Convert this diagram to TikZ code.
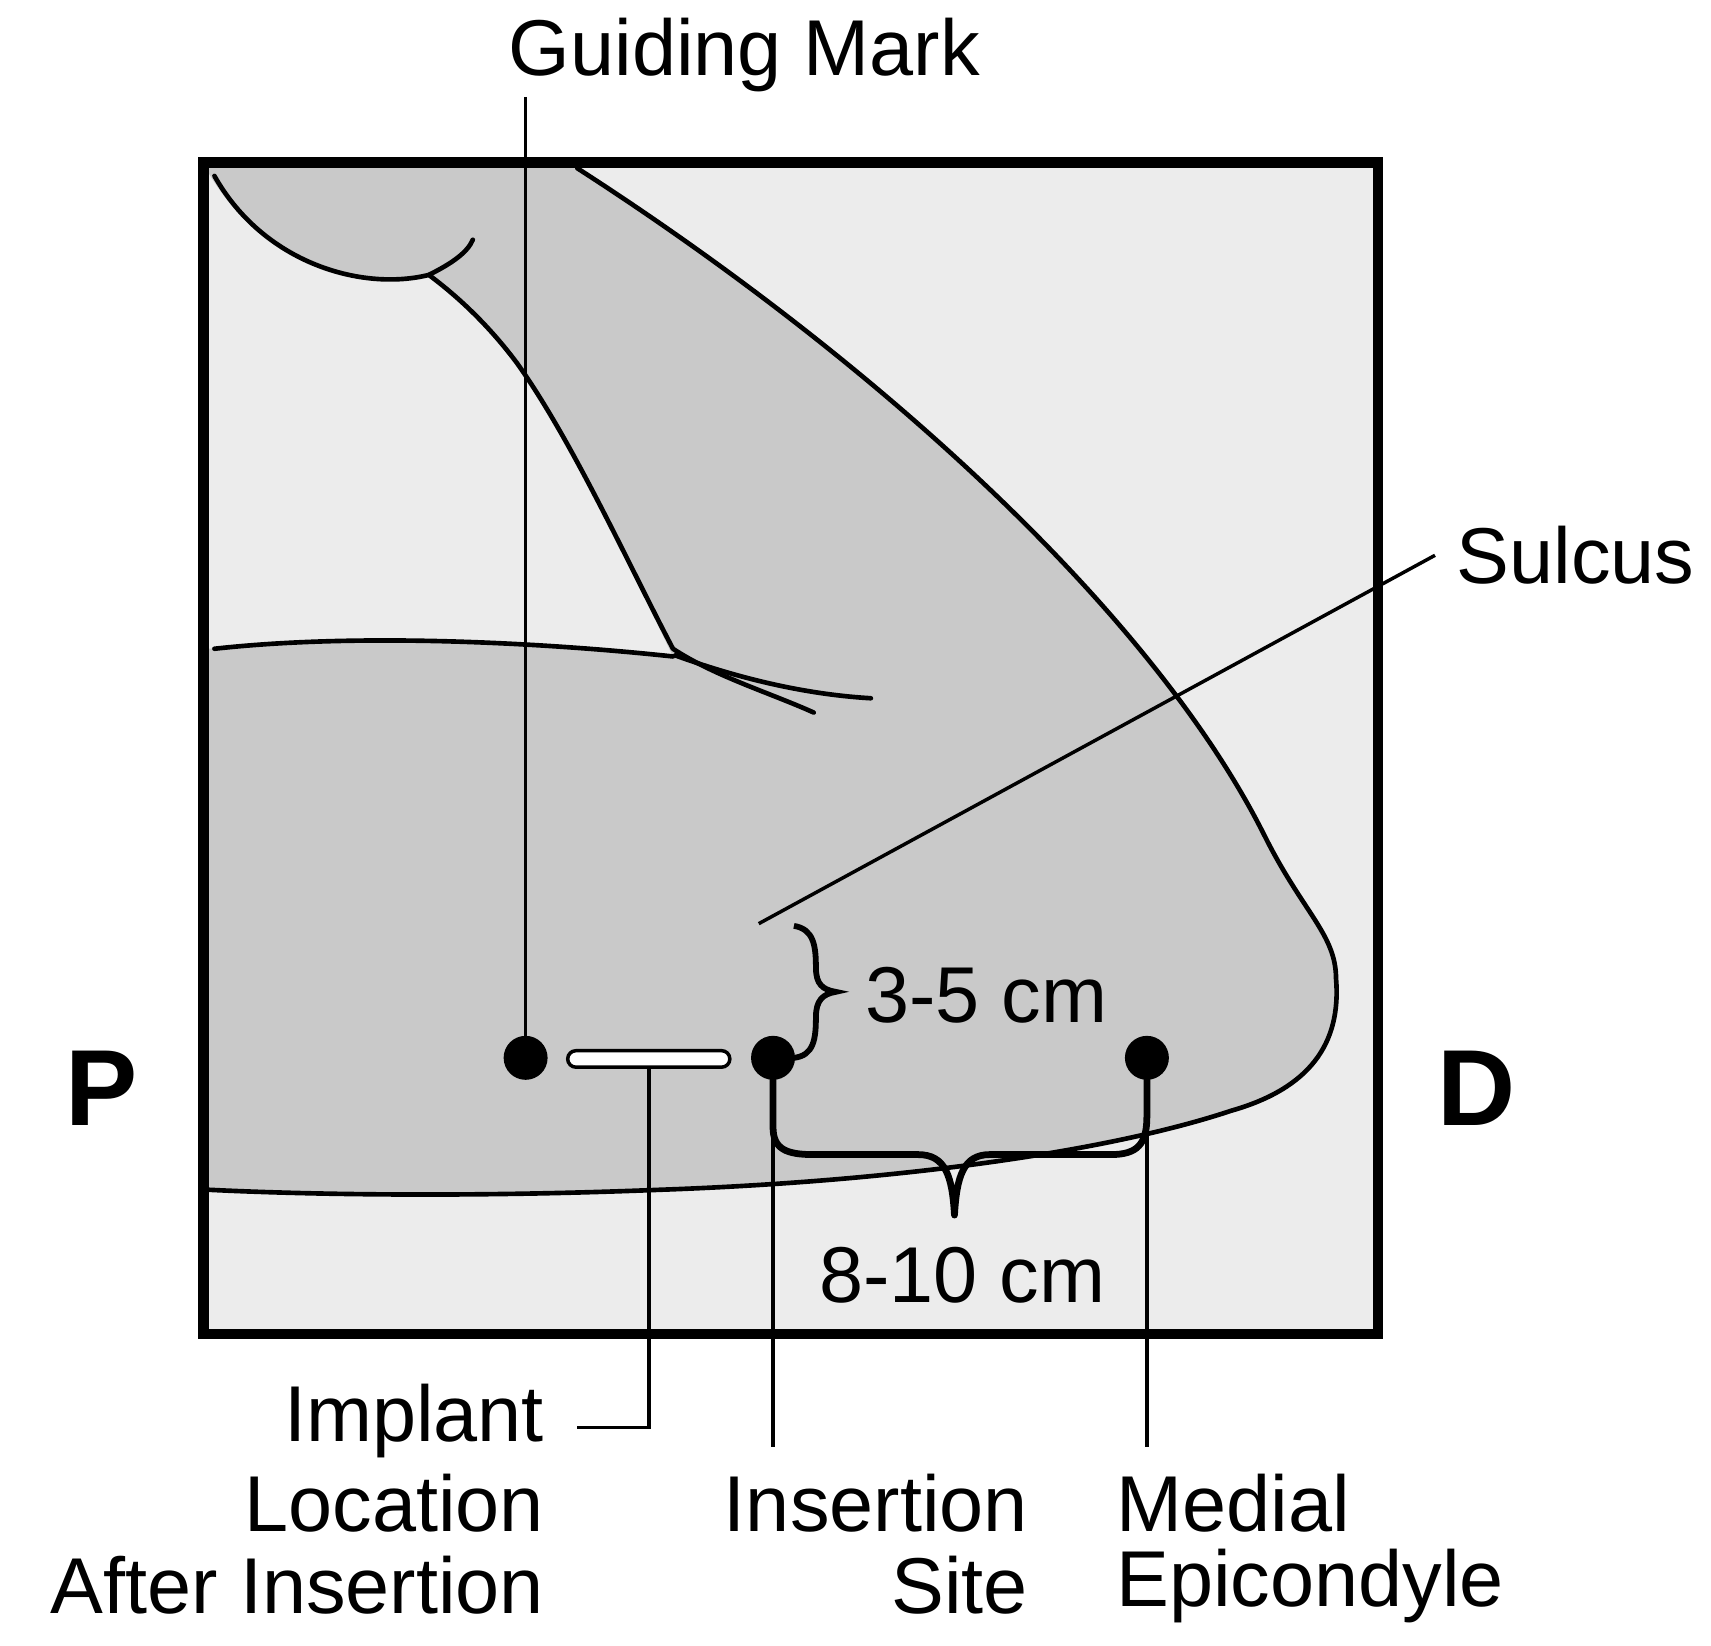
\documentclass[tikz,border=0pt]{standalone}
\usepackage{fontspec}
\setmainfont{Liberation Sans}
\usetikzlibrary{calc}
\begin{document}
\begin{tikzpicture}[x=0.02cm,y=-0.02cm,
  lbl/.style={font=\fontsize{41}{48}\selectfont, inner sep=0pt},
  big/.style={font=\fontsize{56}{60}\selectfont\bfseries, inner sep=0pt},
  outl/.style={line width=2.4pt, line join=round, line cap=round},
  lead/.style={line width=1.8pt},
  dotm/.style={circle, fill=black, minimum size=0.8cm, inner sep=0pt}]
\useasboundingbox (0,0) rectangle (1556,1496);
\definecolor{bg}{gray}{0.925}
\definecolor{arm}{gray}{0.79}
% box background
\fill[bg] (185,148) rectangle (1253,1213);
% arm region
\fill[arm] (190,153) -- (525,153)
  .. controls (800,330) and (1050,560) .. (1150,760)
  .. controls (1185,830) and (1215,850) .. (1215,890)
  .. controls (1220,950) and (1190,990) .. (1120,1010)
  .. controls (1000,1050) and (800,1075) .. (600,1082)
  .. controls (400,1090) and (250,1085) .. (190,1082)
  -- (190,590)
  .. controls (330,575) and (500,585) .. (612,597)
  .. controls (570,510) and (520,400) .. (470,330)
  .. controls (440,290) and (410,265) .. (390,250)
  .. controls (320,265) and (240,240) .. (190,158) -- cycle;
% outlines
\draw[outl] (195,160) .. controls (240,240) and (330,265) .. (390,250)
  .. controls (410,240) and (425,230) .. (430,218);
\draw[outl] (390,250) .. controls (410,265) and (440,290) .. (470,330)
  .. controls (520,400) and (570,510) .. (612,590)
  .. controls (650,615) and (700,630) .. (740,648);
\draw[outl] (614,596) .. controls (680,620) and (740,632) .. (792,635);
\draw[outl] (195,590) .. controls (330,575) and (500,585) .. (612,597);
\draw[outl] (525,153)
  .. controls (800,330) and (1050,560) .. (1150,760)
  .. controls (1185,830) and (1215,850) .. (1215,890)
  .. controls (1220,950) and (1190,990) .. (1120,1010)
  .. controls (1000,1050) and (800,1075) .. (600,1082)
  .. controls (400,1090) and (250,1085) .. (190,1082);
% frame
\draw[line width=5.5pt] (185,148) rectangle (1253,1213);
% labels
\node[lbl] (gm) at (677,50) {Guiding Mark};
\node[lbl] (sul) at (1433,505) {Sulcus};
\node[big] (P) at (92,990) {P};
\node[big] (D) at (1343,990) {D};
% sulcus leader
\coordinate (sulend) at (690,840);
\draw[lead] (sulend) -- (1305,505);
% dots
\node[dotm] (g) at (478,962) {};
\node[dotm] (ins) at (703,962) {};
\node[dotm] (med) at (1043,962) {};
\coordinate (gtop) at (478,88);
\draw[lead] (gtop) -- (g.center);
% implant
\node[draw, fill=white, line width=1.8pt, rounded corners=0.15cm, minimum width=2.95cm, minimum height=0.3cm, inner sep=0pt] (imp) at (590,963) {};
\node[lbl, anchor=east] (implbl) at (495,1292) {Implant};
\node[lbl, anchor=east] at (495,1367) {Location};
\node[lbl, anchor=east] at (495,1442) {After Insertion};
\draw[lead] (imp.south) |- ($(implbl.east)+(30,6)$);
% insertion
\node[lbl, anchor=east] (inslbl) at (935,1367) {Insertion};
\node[lbl, anchor=east] at (935,1442) {Site};
\coordinate (insb) at (703,1316);
\draw[lead] (ins.center) -- (insb);
% medial
\node[lbl, anchor=west] (medlbl) at (1015,1367) {Medial};
\node[lbl, anchor=west] at (1015,1442) {Epicondyle};
\coordinate (medb) at (1043,1316);
\draw[lead] (med.center) -- (medb);
% small brace 3-5
\draw[line width=3pt] (722,842) .. controls (740,845) and (742,860) .. (742,880)
  .. controls (742,895) and (748,900) .. (760,902)
  .. controls (748,904) and (742,910) .. (742,925)
  .. controls (742,945) and (740,960) .. (722,962);
\node[lbl] (d35) at (897,905) {3-5 cm};
% big brace 8-10
\draw[line width=3.5pt, line join=round] (ins.center) -- (703,1025)
  .. controls (703,1045) and (715,1050) .. (740,1050)
  -- (835,1050) .. controls (860,1050) and (866,1070) .. (868,1105)
  .. controls (870,1070) and (876,1050) .. (900,1050)
  -- (1010,1050) .. controls (1035,1050) and (1043,1040) .. (1043,1015) -- (med.center);
\node[lbl] (d810) at (875,1160) {8-10 cm};
\end{tikzpicture}
\end{document}
